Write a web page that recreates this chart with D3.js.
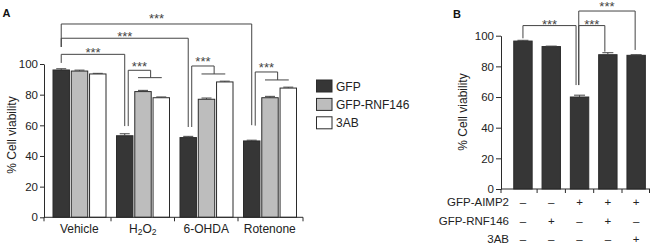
<!DOCTYPE html>
<html><head><meta charset="utf-8">
<script src="https://cdn.jsdelivr.net/npm/d3@7"></script>
<style>
body{margin:0;background:#fff}
svg{display:block;font-family:"Liberation Sans",Arial,sans-serif}
</style>
</head><body><svg id="c" width="650" height="245"></svg>
<script>
// ---------- data ----------
const groupsA = ["Vehicle", "H2O2", "6-OHDA", "Rotenone"];
const seriesA = ["GFP", "GFP-RNF146", "3AB"];
const gfpA = [96.1, 53.2, 52.0, 49.8];
const rnfA = [95.4, 82.0, 77.0, 78.0];
const abA  = [93.5, 78.0, 88.3, 84.3];
const gfpErrA = [0.8, 1.3, 0.8, 0.5];
const rnfErrA = [0.6, 0.8, 0.8, 0.9];
const abErrA  = [0.4, 0.5, 0.5, 0.6];
const yTicks = [0, 20, 40, 60, 80, 100];

// between-group comparisons (from Vehicle GFP to group GFP): line level, leg ends (data units)
const cmpGroupA = [1, 2, 3];
const cmpLevelA = [106.3, 116.8, 126.1];
const cmpLeftEndA = [100.7, 111.1, 111.1];
const cmpRightEndA = [59.5, 58.9, 60.1];
// in-group comparisons (GFP vs treated pair)
const inGroupA = [1, 2, 3];
const inLevelA = [95.9, 98.7, 94.8];
const inDropA = [91.1, 93.5, 89.6];
const inLeftEndA = [59.5, 58.9, 59.8];

const barsB = [0, 1, 2, 3, 4];
const valuesB = [96.5, 92.9, 60.0, 87.6, 87.2];
const errB = [0.5, 0.3, 1.2, 1.3, 0.4];
const rowLabelsB = ["GFP-AIMP2", "GFP-RNF146", "3AB"];
const aimp2B  = ["–", "–", "+", "+", "+"];
const rnf146B = ["–", "+", "–", "+", "–"];
const ab3B    = ["–", "–", "–", "–", "+"];
// B comparisons: [fromBar, toBar], level, leftEnd, rightEnd
const cmpFromB = [0, 2, 2];
const cmpToB = [2, 3, 4];
const cmpLevelB = [106.6, 106.6, 116.1];
const cmpLeftEndB = [98.3, 67.8, 67.8];
const cmpRightEndB = [67.8, 89.6, 90.7];

// ---------- drawing ----------
const svg = d3.select("#c");
const ink = "#2b2b2b";
const fills = ["#363636", "#bdbdbd", "#ffffff"];
const seriesVals = [gfpA, rnfA, abA];
const seriesErr = [gfpErrA, rnfErrA, abErrA];

function stars(g, x, lineY, gap) {
  g.append("text").attr("x", x).attr("y", lineY - gap + 5.6)
    .attr("text-anchor", "middle").attr("font-size", 13).attr("fill", "#444")
    .text("***");
}
function path(g, pts) {
  g.append("path").attr("d", d3.line()(pts)).attr("fill", "none")
    .attr("stroke", "#444").attr("stroke-width", 1);
}

// ===== Panel A =====
const A = svg.append("g");
const yA = d3.scaleLinear().domain([0, 100]).range([217.3, 64]);
const x0 = d3.scaleBand().domain(groupsA).range([47.5, 301.5]).padding(0);
const x1 = d3.scaleBand().domain(seriesA).range([5.5, 58.5]).paddingInner(0.1).paddingOuter(0);
const cx = (gi, si) => x0(groupsA[gi]) + x1(seriesA[si]) + x1.bandwidth() / 2;

groupsA.forEach((g, gi) => {
  seriesA.forEach((s, si) => {
    const v = seriesVals[si][gi], e = seriesErr[si][gi];
    const bx = x0(g) + x1(s);
    A.append("rect").attr("x", bx).attr("y", yA(v))
      .attr("width", x1.bandwidth()).attr("height", yA(0) - yA(v))
      .attr("fill", fills[si]).attr("stroke", ink).attr("stroke-width", 1);
    const c = bx + x1.bandwidth() / 2;
    path(A, [[c, yA(v)], [c, yA(v + e)]]);
    path(A, [[c - 5, yA(v + e)], [c + 5, yA(v + e)]]);
  });
});

const yAxA = A.append("g").attr("transform", "translate(44,0)")
  .call(d3.axisLeft(yA).tickValues(yTicks).tickSize(4).tickSizeOuter(0).tickPadding(2));
yAxA.select(".domain").attr("stroke", ink);
yAxA.selectAll(".tick line").attr("stroke", ink);
yAxA.selectAll(".tick text").attr("font-size", 11.5).attr("fill", "#222")
  .attr("font-family", "Liberation Sans, Arial, sans-serif");

const xb = [44];
for (let i = 1; i < groupsA.length; i++) xb.push(x0(groupsA[i]));
xb.push(303);
A.append("line").attr("x1", 44).attr("x2", 303).attr("y1", yA(0)).attr("y2", yA(0)).attr("stroke", ink);
xb.forEach(x => A.append("line").attr("x1", x).attr("x2", x).attr("y1", yA(0)).attr("y2", yA(0) + 4).attr("stroke", ink));
groupsA.forEach((g, gi) => {
  const t = A.append("text").attr("x", x0(g) + x0.bandwidth() / 2).attr("y", 233)
    .attr("text-anchor", "middle").attr("font-size", 12).attr("fill", "#222");
  if (g === "H2O2") {
    t.append("tspan").text("H");
    t.append("tspan").attr("font-size", 8.5).attr("dy", 2).text("2");
    t.append("tspan").attr("dy", -2).text("O");
    t.append("tspan").attr("font-size", 8.5).attr("dy", 2).text("2");
  } else t.text(g);
});

A.append("text").attr("transform", "translate(16,135) rotate(-90)")
  .attr("text-anchor", "middle").attr("font-size", 12).attr("fill", "#222").text("% Cell viability");

const starGapA = [2.6, 2.6, 7];
cmpGroupA.forEach((tg, i) => {
  const xl = cx(0, 0), xr = cx(tg, 0), ly = yA(cmpLevelA[i]);
  path(A, [[xl, yA(cmpLeftEndA[i])], [xl, ly], [xr, ly], [xr, yA(cmpRightEndA[i])]]);
  stars(A, (xl + xr) / 2, ly, starGapA[i]);
});
inGroupA.forEach((gi, i) => {
  const xl = cx(gi, 0) + 3.5;
  const xd = (cx(gi, 1) + cx(gi, 2)) / 2 - 1.5;
  const ly = yA(inLevelA[i]), dy = yA(inDropA[i]);
  path(A, [[xl, yA(inLeftEndA[i])], [xl, ly], [xd, ly], [xd, dy]]);
  path(A, [[cx(gi, 1) - 5, dy], [cx(gi, 2) + 0.5, dy]]);
  stars(A, (xl + xd) / 2, ly, 5.3);
});

seriesA.forEach((s, si) => {
  const y = 80 + si * 18.4;
  A.append("rect").attr("x", 316.5).attr("y", y).attr("width", 15.5).attr("height", 12)
    .attr("fill", fills[si]).attr("stroke", ink).attr("stroke-width", 1);
  A.append("text").attr("x", 336).attr("y", y + 10.5).attr("font-size", 12).attr("fill", "#222").text(s);
});

svg.append("text").attr("x", 2.5).attr("y", 16.7).attr("font-size", 11).attr("font-weight", "bold")
  .attr("fill", "#111").text("A");
svg.append("text").attr("x", 453).attr("y", 18.3).attr("font-size", 11).attr("font-weight", "bold")
  .attr("fill", "#111").text("B");

// ===== Panel B =====
const B = svg.append("g");
const yB = d3.scaleLinear().domain([0, 100]).range([189, 35.7]);
const xB = d3.scaleBand().domain(barsB).range([508.8, 650.3]).paddingInner(0.35).paddingOuter(0.175);
const cB = i => xB(barsB[i]) + xB.bandwidth() / 2;

barsB.forEach((b, i) => {
  const v = valuesB[i], e = errB[i];
  B.append("rect").attr("x", xB(b)).attr("y", yB(v)).attr("width", xB.bandwidth())
    .attr("height", yB(0) - yB(v)).attr("fill", fills[0]).attr("stroke", ink).attr("stroke-width", 1);
  const c = cB(i);
  path(B, [[c, yB(v)], [c, yB(v + e)]]);
  path(B, [[c - 5.5, yB(v + e)], [c + 5.5, yB(v + e)]]);
});

const yAxB = B.append("g").attr("transform", "translate(501,0)")
  .call(d3.axisLeft(yB).tickValues(yTicks).tickSize(5).tickSizeOuter(0).tickPadding(2));
yAxB.select(".domain").attr("stroke", ink);
yAxB.selectAll(".tick line").attr("stroke", ink);
yAxB.selectAll(".tick text").attr("font-size", 11.5).attr("fill", "#222")
  .attr("font-family", "Liberation Sans, Arial, sans-serif");

B.append("line").attr("x1", 501).attr("x2", 650).attr("y1", yB(0)).attr("y2", yB(0)).attr("stroke", ink);
const tB = [501].concat(barsB.map((b, i) => Math.min(649.5, cB(i) + xB.step() / 2)));
tB.forEach(x => B.append("line").attr("x1", x).attr("x2", x).attr("y1", yB(0)).attr("y2", yB(0) + 4).attr("stroke", ink));

B.append("text").attr("transform", "translate(467,112) rotate(-90)")
  .attr("text-anchor", "middle").attr("font-size", 12).attr("fill", "#222").text("% Cell viability");

const rowsB = [aimp2B, rnf146B, ab3B];
const rowY = [206, 224.8, 243.3];
rowLabelsB.forEach((lab, r) => {
  const by = rowY[r];
  B.append("text").attr("x", 509).attr("y", by).attr("text-anchor", "end")
    .attr("font-size", 11.5).attr("fill", "#222").text(lab);
  rowsB[r].forEach((s, i) => {
    B.append("text").attr("x", cB(i)).attr("y", by).attr("text-anchor", "middle")
      .attr("font-size", 11.5).attr("fill", "#222").text(s);
  });
});

const starGapB = [2, 2, 5.3];
cmpFromB.forEach((f, i) => {
  const xl = cB(f) + (f === 2 ? -0.8 : 0);
  const xr = cB(cmpToB[i]) + (cmpToB[i] === 2 ? -3.5 : (cmpToB[i] === 3 ? -3 : -1));
  const ly = yB(cmpLevelB[i]);
  path(B, [[xl, yB(cmpLeftEndB[i])], [xl, ly], [xr, ly], [xr, yB(cmpRightEndB[i])]]);
  stars(B, (xl + xr) / 2, ly, starGapB[i]);
});
</script>
</body></html>
